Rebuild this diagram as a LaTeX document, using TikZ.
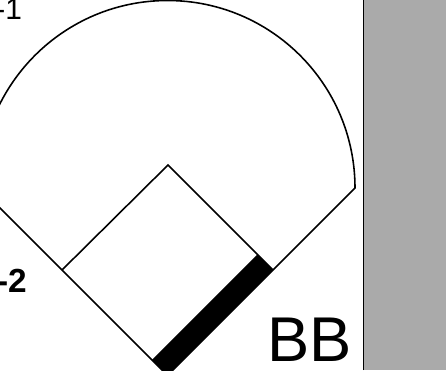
\documentclass[tikz,border=0pt]{standalone}
\usepackage{fontspec}
\setmainfont{Liberation Sans}
\usepackage{tikz}
\usepackage{xcolor}
\usetikzlibrary{positioning, calc}
\definecolor{panelgray}{HTML}{AAAAAA}

\begin{document}
\begin{tikzpicture}[
    x=0.02cm,
    y=0.02cm,
    every node/.style={inner sep=0pt, outer sep=0pt},
    field/.style={
        line width=0.9pt,
        line join=miter
    },
    bagbar/.style={
        fill=black
    },
    count/.style={
        anchor=base west,
        font=\fontsize{17}{17}\selectfont
    },
    tag/.style={
        anchor=base east,
        font=\fontsize{36}{36}\selectfont
    }
]

\useasboundingbox (0,0) rectangle (446,370);
\clip (0,0) rectangle (446,370);

% Panneau
\fill[panelgray] (363.5,0) rectangle (446,370);
\draw[line width=0.6pt] (363.5,0) -- (363.5,370);

% Bases
\coordinate (home) at (167.5,-5.5);
\coordinate (first) at (273,100);
\coordinate (second) at (168,205);
\coordinate (third) at (62,100);
\coordinate (rightend) at (355,182);
\coordinate (leftend) at (-20,182);

% Terrain
\draw[field] (leftend) -- (home) -- (rightend)
    arc[start angle=0, end angle=180, radius=187.5];
\draw[field] (third) -- (second) -- (first);
\fill[bagbar] (home) -- (first) -- ($(first)+(-15.6,15.6)$)
    -- ($(home)+(-15.6,15.6)$) -- cycle;

% Textes
\node[count] (minusone) at (-4.5,351) {-1};
\node[count, font=\fontsize{19}{19}\selectfont\bfseries] (minustwo) at (-3,78) {-2};
\node[tag] (bb) at (352,9) {BB};

\end{tikzpicture}
\end{document}
